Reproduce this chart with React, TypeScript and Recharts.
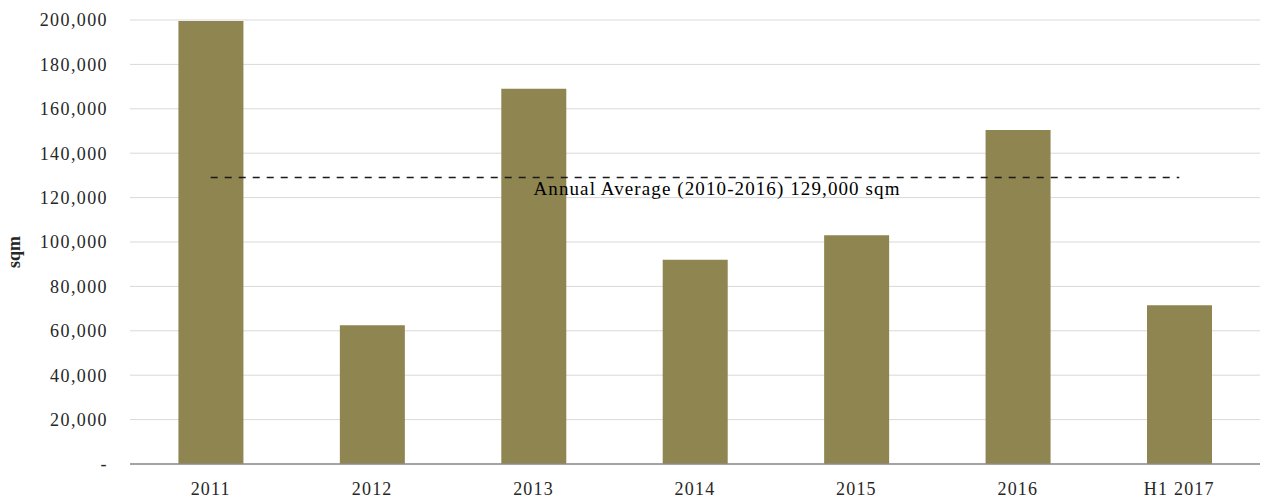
import { Bar, CartesianGrid, ComposedChart, ReferenceLine, XAxis, YAxis } from "recharts";

const categories = ["2011", "2012", "2013", "2014", "2015", "2016", "H1 2017"];
const takeUp = [199500, 62500, 169000, 92000, 103000, 150500, 71500];
const yTicks = [0, 20000, 40000, 60000, 80000, 100000, 120000, 140000, 160000, 180000, 200000];
const annualAverage = 129000;
const averageLabel = "Annual Average (2010-2016) 129,000 sqm";

const data = categories.map((year, i) => ({ year, value: takeUp[i] }));

const serif = "'Liberation Serif', 'DejaVu Serif', serif";

const fmtTick = (v: number) => (v === 0 ? "-" : v.toLocaleString("en-US"));

export default function App() {
  return (
    <div style={{ position: "absolute", left: 0, top: 0, background: "#fff", fontFamily: serif }}>
      <ComposedChart
        width={1261}
        height={503}
        data={data}
        margin={{ top: 20, right: 1, left: 0, bottom: 0 }}
        barCategoryGap="30%"
      >
        <CartesianGrid vertical={false} stroke="#d9d9d9" />
        <XAxis
          dataKey="year"
          tickLine={false}
          axisLine={{ stroke: "#8c8c8c", strokeWidth: 1.5 }}
          height={39}
          tick={{ fontFamily: serif, fontSize: 18, fill: "#262626", letterSpacing: 1.2 }}
          tickMargin={12}
        />
        <YAxis
          domain={[0, 200000]}
          ticks={yTicks}
          tickFormatter={fmtTick}
          axisLine={false}
          tickLine={false}
          width={130}
          tickMargin={16}
          tick={{ fontFamily: serif, fontSize: 18, fill: "#262626", letterSpacing: 1.4 }}
          label={{
            value: "sqm",
            angle: -90,
            position: "insideLeft",
            offset: 14,
            dy: 10,
            style: { fontFamily: serif, fontSize: 18, fontWeight: "bold", fill: "#262626", textAnchor: "middle" },
          }}
        />
        <Bar dataKey="value" fill="#8f8550" isAnimationActive={false} />
        <ReferenceLine
          segment={[
            { x: categories[0], y: annualAverage },
            { x: categories[categories.length - 1], y: annualAverage },
          ]}
          stroke="#1a1a1a"
          strokeWidth={1.5}
          strokeDasharray="7 7"
          label={{
            value: averageLabel,
            position: "center",
            dy: 11,
            dx: 22,
            style: { fontFamily: serif, fontSize: 19, fill: "#000", letterSpacing: 1.1 },
          }}
        />
      </ComposedChart>
    </div>
  );
}
